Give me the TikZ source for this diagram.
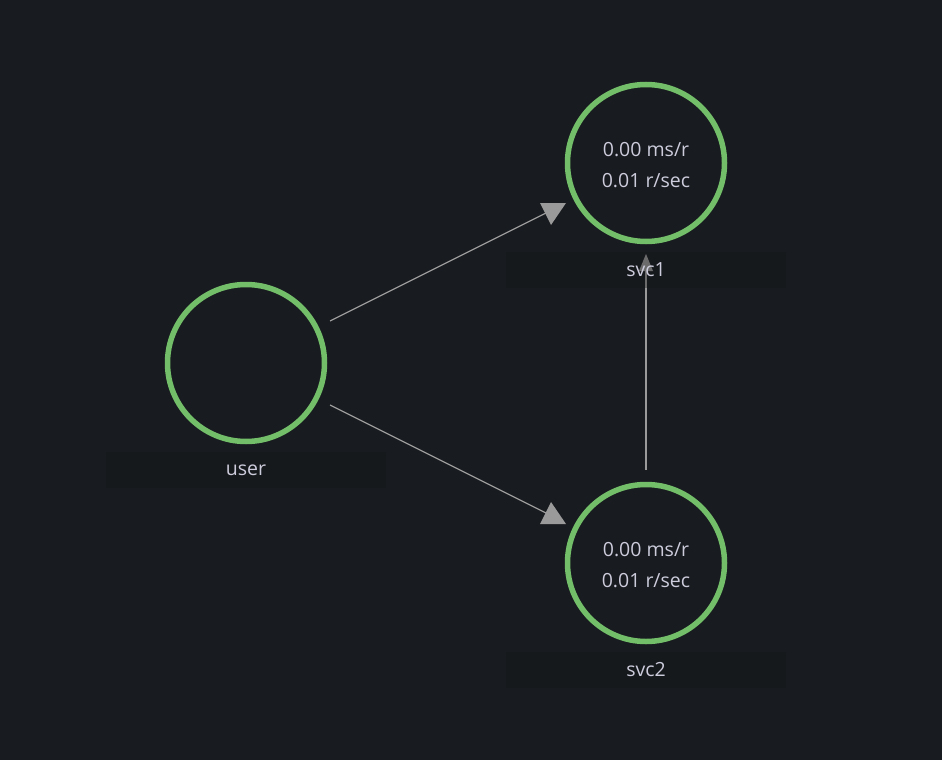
\documentclass[tikz,border=0pt]{standalone}
\usepackage{fontspec}
\setmainfont{Open Sans}
\usetikzlibrary{calc}
\definecolor{bg}{HTML}{181B1F}
\definecolor{ringgreen}{HTML}{73BF69}
\definecolor{txt}{HTML}{CCCCDC}
\definecolor{edge}{HTML}{9A9A9A}
\definecolor{labbox}{HTML}{141619}
\begin{document}
\begin{tikzpicture}[x=1pt,y=-1pt,
  svcnode/.style={circle,draw=ringgreen,line width=5.5pt,minimum size=157pt,inner sep=0pt,
    text=txt,font=\fontsize{19.5}{31}\selectfont,align=center},
  labnode/.style={fill=labbox,fill opacity=0.35,text opacity=1,text=txt,minimum width=280pt,minimum height=36pt,
    inner sep=0pt,font=\fontsize{19.5}{22}\selectfont},
  edgeline/.style={draw=edge,line width=1.3pt},
  tip/.style={fill=edge}]
\fill[bg] (0,0) rectangle (942,760);
\useasboundingbox (0,0) rectangle (942,760);
\node[svcnode] (user) at (246,363) {};
\node[svcnode] (svc1) at (646,163) {};
\node[svcnode] (svc2) at (646,563) {};
\node[text=txt,font=\fontsize{19.5}{31}\selectfont,align=center] (svc1txt) at ($(svc1.center)+(0,2)$) {0.00 ms/r\\0.01 r/sec};
\node[text=txt,font=\fontsize{19.5}{31}\selectfont,align=center] (svc2txt) at ($(svc2.center)+(0,2)$) {0.00 ms/r\\0.01 r/sec};
% edges
\draw[edgeline] ($(user.center)!94pt!(svc1.center)$) -- ($(svc1.center)!104pt!(user.center)$);
\fill[tip] ([shift={(-106,40)}]svc1.center) -- ([shift={(-80,40)}]svc1.center) -- ([shift={(-95,62)}]svc1.center) -- cycle;
\draw[edgeline] ($(user.center)!94pt!(svc2.center)$) -- ($(svc2.center)!106pt!(user.center)$);
\fill[tip] ([shift={(-106,-39)}]svc2.center) -- ([shift={(-80,-39)}]svc2.center) -- ([shift={(-95,-61)}]svc2.center) -- cycle;
\draw[edgeline] ($(svc2.center)!93pt!(svc1.center)$) -- ($(svc1.center)!106pt!(svc2.center)$);
\fill[tip] ([shift={(-7,108)}]svc1.center) -- ([shift={(7,108)}]svc1.center) -- ([shift={(0,91)}]svc1.center) -- cycle;
% labels
\node[labnode] (userlab) at ($(user.center)+(0,107)$) {user};
\node[labnode] (svc1lab) at ($(svc1.center)+(0,107)$) {svc1};
\node[labnode] (svc2lab) at ($(svc2.center)+(0,107)$) {svc2};
\end{tikzpicture}
\end{document}
